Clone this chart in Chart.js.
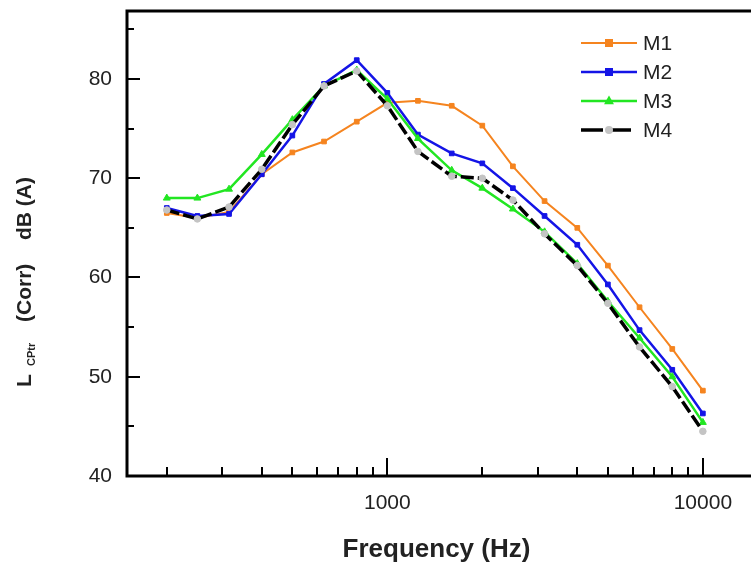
<!DOCTYPE html>
<html>
<head>
<meta charset="utf-8">
<script src="https://cdn.jsdelivr.net/npm/chart.js@4.4.0/dist/chart.umd.min.js"></script>
<style>
  html, body { margin: 0; padding: 0; background: #fff; }
  #wrap { width: 751px; height: 564px; }
</style>
</head>
<body>
<div id="wrap"><canvas id="c" width="751" height="564"></canvas></div>
<script>
// 1/3 octave band centre frequencies (Hz)
const freqs = [200, 250, 315, 400, 500, 630, 800, 1000, 1250, 1600, 2000, 2500, 3150, 4000, 5000, 6300, 8000, 10000];

// L CPtr (Corr) dB(A) per model
const m1 = [66.5, 66.0, 66.6, 70.4, 72.6, 73.7, 75.7, 77.6, 77.8, 77.3, 75.3, 71.2, 67.7, 65.0, 61.2, 57.0, 52.8, 48.6];
const m2 = [67.0, 66.2, 66.4, 70.4, 74.3, 79.5, 81.9, 78.6, 74.4, 72.5, 71.5, 69.0, 66.2, 63.3, 59.3, 54.7, 50.7, 46.3];
const m3 = [68.0, 68.0, 68.9, 72.4, 75.9, 79.3, 80.9, 78.0, 74.0, 70.8, 69.0, 66.9, 64.6, 61.4, 57.6, 53.9, 50.0, 45.4];
const m4 = [66.8, 65.9, 67.1, 70.9, 75.4, 79.3, 80.8, 77.3, 72.7, 70.2, 70.0, 67.8, 64.4, 61.2, 57.4, 53.0, 49.0, 44.5];

const seriesNames = ['M1', 'M2', 'M3', 'M4'];

// tick values
const xMajor = [1000, 10000];
const xMinor = [200, 300, 400, 500, 600, 700, 800, 900, 2000, 3000, 4000, 5000, 6000, 7000, 8000, 9000];
const yMajor = [40, 50, 60, 70, 80];
const yMinor = [45, 55, 65, 75, 85];

const FONT = "'Liberation Sans', Arial, sans-serif";

const pts = arr => freqs.map((f, i) => ({ x: f, y: arr[i] }));

const styles = [
  { color: '#f5841f', marker: '#f5841f', shape: 'rect', width: 2, dash: [] },
  { color: '#1414e6', marker: '#1414e6', shape: 'rect', width: 2.5, dash: [] },
  { color: '#22e622', marker: '#22e622', shape: 'triangle', width: 2.5, dash: [] },
  { color: '#000000', marker: '#c4c4c4', shape: 'circle', width: 3.5, dash: [13, 4] }
];

const seriesData = [m1, m2, m3, m4];

const datasets = seriesData.map((d, i) => ({
  label: seriesNames[i],
  data: pts(d),
  borderColor: styles[i].color,
  backgroundColor: styles[i].color,
  borderWidth: styles[i].width,
  borderDash: styles[i].dash,
  pointStyle: styles[i].shape,
  pointRadius: styles[i].shape === 'triangle' ? 4 : 3.3,
  pointBackgroundColor: styles[i].marker,
  pointBorderColor: styles[i].marker,
  pointBorderWidth: 1,
  tension: 0,
  order: 3 - i
}));

function marker(ctx, shape, x, y, r, color) {
  ctx.save();
  ctx.fillStyle = color;
  ctx.beginPath();
  if (shape === 'rect') {
    ctx.rect(x - r, y - r, 2 * r, 2 * r);
  } else if (shape === 'triangle') {
    ctx.moveTo(x, y - r * 1.2);
    ctx.lineTo(x + r * 1.1, y + r * 0.7);
    ctx.lineTo(x - r * 1.1, y + r * 0.7);
    ctx.closePath();
  } else {
    ctx.arc(x, y, r, 0, Math.PI * 2);
  }
  ctx.fill();
  ctx.restore();
}

const framePlugin = {
  id: 'frame',
  afterDraw(chart) {
    const { ctx, chartArea: a, scales: { x, y } } = chart;
    ctx.save();
    ctx.strokeStyle = '#000';
    ctx.lineWidth = 3;
    ctx.lineCap = 'square';
    // frame: left, bottom, top
    ctx.beginPath();
    ctx.moveTo(a.left, a.top);
    ctx.lineTo(a.left, a.bottom);
    ctx.lineTo(chart.width, a.bottom);
    ctx.moveTo(a.left, a.top);
    ctx.lineTo(chart.width, a.top);
    ctx.stroke();

    // inward ticks
    ctx.lineWidth = 2;
    ctx.lineCap = 'butt';
    ctx.beginPath();
    xMajor.forEach(v => { const px = Math.round(x.getPixelForValue(v)); ctx.moveTo(px, a.bottom); ctx.lineTo(px, a.bottom - 18); });
    xMinor.forEach(v => { const px = Math.round(x.getPixelForValue(v)); ctx.moveTo(px, a.bottom); ctx.lineTo(px, a.bottom - 9); });
    yMajor.forEach(v => { const py = Math.round(y.getPixelForValue(v)); ctx.moveTo(a.left, py); ctx.lineTo(a.left + 13, py); });
    yMinor.forEach(v => { const py = Math.round(y.getPixelForValue(v)); ctx.moveTo(a.left, py); ctx.lineTo(a.left + 7, py); });
    ctx.stroke();

    // y axis title with subscript
    ctx.translate(25, 0);
    ctx.rotate(-Math.PI / 2);
    ctx.fillStyle = '#222';
    ctx.textBaseline = 'middle';
    ctx.textAlign = 'left';
    ctx.font = 'bold 21px ' + FONT;
    ctx.fillText('L', -387, 0);
    ctx.font = 'bold 11px ' + FONT;
    ctx.fillText('CPtr', -366, 7);
    ctx.font = 'bold 21px ' + FONT;
    ctx.fillText('(Corr)', -322, 0);
    ctx.fillText('dB (A)', -240, 0);
    ctx.restore();

    // legend
    ctx.save();
    chart.data.datasets.forEach((ds, i) => {
      const st = styles[i];
      const ly = 43 + i * 29;
      ctx.strokeStyle = st.color;
      ctx.lineWidth = st.width;
      ctx.setLineDash(st.dash.length ? [22, 6] : []);
      ctx.beginPath();
      ctx.moveTo(581, ly);
      ctx.lineTo(637, ly);
      ctx.stroke();
      ctx.setLineDash([]);
      marker(ctx, st.shape, 609, ly, st.shape === 'triangle' ? 4.5 : 4, st.marker);
      ctx.fillStyle = '#222';
      ctx.font = '21px ' + FONT;
      ctx.textBaseline = 'middle';
      ctx.textAlign = 'left';
      ctx.fillText(ds.label, 643, ly + 1);
    });
    ctx.restore();
  }
};

new Chart(document.getElementById('c'), {
  type: 'line',
  data: { datasets },
  options: {
    responsive: false,
    animation: false,
    layout: { padding: { top: 11, right: 0, bottom: 0, left: 0 } },
    plugins: { legend: { display: false }, tooltip: { enabled: false } },
    scales: {
      x: {
        type: 'logarithmic',
        min: 149.6,
        max: 13700,
        grid: { display: false, drawTicks: false },
        border: { display: false },
        afterBuildTicks: s => { s.ticks = xMajor.map(v => ({ value: v })); },
        afterFit: s => { s.height = 88; s.paddingLeft = 0; s.paddingRight = 0; },
        ticks: {
          callback: v => String(v),
          autoSkip: false,
          maxRotation: 0,
          padding: 15,
          color: '#222',
          font: { family: FONT, size: 21 }
        },
        title: {
          display: true,
          text: 'Frequency (Hz)',
          color: '#222',
          font: { family: FONT, size: 26, weight: 'bold' },
          padding: { top: 0, bottom: -1 }
        }
      },
      y: {
        min: 40,
        max: 86.85,
        grid: { display: false, drawTicks: false },
        border: { display: false },
        afterBuildTicks: s => { s.ticks = yMajor.map(v => ({ value: v })); },
        afterFit: s => { s.width = 127; s.paddingTop = 0; s.paddingBottom = 0; },
        ticks: {
          callback: v => String(v),
          padding: 15,
          color: '#222',
          font: { family: FONT, size: 21 }
        }
      }
    }
  },
  plugins: [framePlugin]
});
</script>
</body>
</html>
